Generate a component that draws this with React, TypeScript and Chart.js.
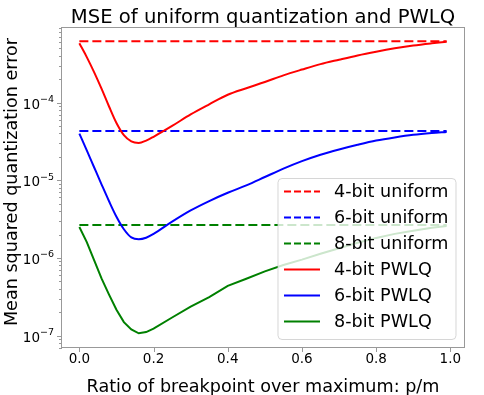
import React, { useEffect, useRef } from 'react';
import { Chart, registerables } from 'chart.js';

Chart.register(...registerables);

// ---- data ----
const ratios = [0, 0.02, 0.04, 0.06, 0.08, 0.1, 0.12, 0.14, 0.16, 0.18, 0.2, 0.25, 0.3, 0.35, 0.4, 0.45, 0.5, 0.55, 0.6, 0.65, 0.7, 0.75, 0.8, 0.85, 0.9, 0.95, 0.99];
const pwlq4 = [5.8e-4, 3.85e-4, 2.45e-4, 1.5e-4, 8.9e-5, 5.45e-5, 3.8e-5, 3.16e-5, 3.02e-5, 3.24e-5, 3.63e-5, 5.0e-5, 7.05e-5, 9.5e-5, 1.26e-4, 1.53e-4, 1.84e-4, 2.24e-4, 2.66e-4, 3.13e-4, 3.57e-4, 4.05e-4, 4.52e-4, 4.99e-4, 5.43e-4, 5.79e-4, 6.05e-4];
const pwlq6 = [3.98e-5, 2.43e-5, 1.46e-5, 8.8e-6, 5.37e-6, 3.39e-6, 2.34e-6, 1.84e-6, 1.74e-6, 1.82e-6, 2.04e-6, 2.93e-6, 4.09e-6, 5.4e-6, 6.9e-6, 8.6e-6, 1.1e-5, 1.41e-5, 1.76e-5, 2.13e-5, 2.49e-5, 2.86e-5, 3.24e-5, 3.56e-5, 3.85e-5, 4.06e-5, 4.19e-5];
const pwlq8 = [2.5e-6, 1.6e-6, 9.3e-7, 5.4e-7, 3.37e-7, 2.15e-7, 1.49e-7, 1.2e-7, 1.07e-7, 1.11e-7, 1.23e-7, 1.71e-7, 2.36e-7, 3.12e-7, 4.37e-7, 5.4e-7, 6.7e-7, 8.1e-7, 9.5e-7, 1.13e-6, 1.33e-6, 1.57e-6, 1.81e-6, 2.04e-6, 2.24e-6, 2.44e-6, 2.58e-6];
const uniformX = [0, 0.99];
const uniform4 = [6.15e-4, 6.15e-4];
const uniform6 = [4.3e-5, 4.3e-5];
const uniform8 = [2.65e-6, 2.65e-6];
const seriesLabels = ['4-bit uniform', '6-bit uniform', '8-bit uniform', '4-bit PWLQ', '6-bit PWLQ', '8-bit PWLQ'];
const xTickValues = [0, 0.2, 0.4, 0.6, 0.8, 1.0];
const yDecadeExponents = [-7, -6, -5, -4];
const titleText = 'MSE of uniform quantization and PWLQ';
const xLabelText = 'Ratio of breakpoint over maximum: p/m';
const yLabelText = 'Mean squared quantization error';

const FONT = "'DejaVu Sans', sans-serif";
const DASH = [9, 4];
const COLORS = ['#ff0000', '#0000ff', '#008000'];
const SPINE = '#999999';

const pts = (xs: number[], ys: number[]) => xs.map((x, i) => ({ x, y: ys[i] }));

function buildLogTicks(min: number, max: number) {
  const out: { value: number; major: boolean }[] = [];
  for (let e = -9; e <= -2; e++) {
    for (let m = 1; m <= 9; m++) {
      const v = Number((m * Math.pow(10, e)).toPrecision(3));
      if (v >= min && v <= max) out.push({ value: v, major: m === 1 });
    }
  }
  return out;
}

export default function App() {
  const ref = useRef<HTMLCanvasElement>(null);

  useEffect(() => {
    const canvas = ref.current;
    if (!canvas) return;

    const datasets: any[] = [
      { label: seriesLabels[0], data: pts(uniformX, uniform4), borderColor: COLORS[0], borderDash: DASH, order: 1 },
      { label: seriesLabels[1], data: pts(uniformX, uniform6), borderColor: COLORS[1], borderDash: DASH, order: 1 },
      { label: seriesLabels[2], data: pts(uniformX, uniform8), borderColor: COLORS[2], borderDash: DASH, order: 1 },
      { label: seriesLabels[3], data: pts(ratios, pwlq4), borderColor: COLORS[0], cubicInterpolationMode: 'monotone', order: 0 },
      { label: seriesLabels[4], data: pts(ratios, pwlq6), borderColor: COLORS[1], cubicInterpolationMode: 'monotone', order: 0 },
      { label: seriesLabels[5], data: pts(ratios, pwlq8), borderColor: COLORS[2], order: 0 },
    ];

    const decor = {
      id: 'decor',
      afterDraw(chart: any) {
        const ctx = chart.ctx as CanvasRenderingContext2D;
        const { left, right, top, bottom } = chart.chartArea;
        const xs = chart.scales.x;
        const ys = chart.scales.y;
        ctx.save();

        // frame
        ctx.strokeStyle = SPINE;
        ctx.lineWidth = 1;
        ctx.strokeRect(Math.round(left) + 0.5, Math.round(top) + 0.5, Math.round(right - left) - 1, Math.round(bottom - top) - 1);

        // x tick marks
        ctx.beginPath();
        for (const v of xTickValues) {
          const px = Math.round(xs.getPixelForValue(v)) + 0.5;
          ctx.moveTo(px, bottom);
          ctx.lineTo(px, bottom + 4);
        }
        // y tick marks
        for (const t of ys.ticks) {
          const py = Math.round(ys.getPixelForValue(t.value)) + 0.5;
          ctx.moveTo(left + 1, py);
          ctx.lineTo(left - (t.major ? 4 : 2), py);
        }
        ctx.stroke();

        // y tick labels (10^n)
        ctx.fillStyle = '#000';
        ctx.textBaseline = 'alphabetic';
        for (const e of yDecadeExponents) {
          const py = ys.getPixelForValue(Math.pow(10, e));
          const sup = '\u2212' + Math.abs(e);
          ctx.font = `9.5px ${FONT}`;
          const supW = ctx.measureText(sup).width;
          const rightEdge = 54;
          ctx.textAlign = 'left';
          ctx.fillText(sup, rightEdge - supW, py - 0.5);
          ctx.font = `13.5px ${FONT}`;
          ctx.textAlign = 'right';
          ctx.fillText('10', rightEdge - supW, py + 6);
        }

        // title
        ctx.textAlign = 'center';
        ctx.font = `19.6px ${FONT}`;
        ctx.fillText(titleText, (left + right) / 2, 23);

        // x label
        ctx.font = `17.6px ${FONT}`;
        ctx.fillText(xLabelText, (left + right) / 2, 391.5);

        // y label
        ctx.save();
        ctx.translate(17, 182);
        ctx.rotate(-Math.PI / 2);
        ctx.fillText(yLabelText, 0, 0);
        ctx.restore();

        // legend
        const bx = 278, by = 178.5, bw = 178, bh = 161, r = 4;
        ctx.beginPath();
        ctx.moveTo(bx + r, by);
        ctx.lineTo(bx + bw - r, by);
        ctx.quadraticCurveTo(bx + bw, by, bx + bw, by + r);
        ctx.lineTo(bx + bw, by + bh - r);
        ctx.quadraticCurveTo(bx + bw, by + bh, bx + bw - r, by + bh);
        ctx.lineTo(bx + r, by + bh);
        ctx.quadraticCurveTo(bx, by + bh, bx, by + bh - r);
        ctx.lineTo(bx, by + r);
        ctx.quadraticCurveTo(bx, by, bx + r, by);
        ctx.closePath();
        ctx.fillStyle = 'rgba(255,255,255,0.8)';
        ctx.fill();
        ctx.strokeStyle = 'rgba(204,204,204,0.8)';
        ctx.lineWidth = 1;
        ctx.stroke();

        ctx.font = `17.6px ${FONT}`;
        ctx.textAlign = 'left';
        ctx.textBaseline = 'middle';
        chart.data.datasets.forEach((ds: any, i: number) => {
          const cy = 191.5 + i * 26;
          ctx.beginPath();
          ctx.strokeStyle = ds.borderColor;
          ctx.lineWidth = 2;
          ctx.setLineDash(ds.borderDash ? [7, 3] : []);
          ctx.moveTo(284, cy);
          ctx.lineTo(320, cy);
          ctx.stroke();
          ctx.setLineDash([]);
          ctx.fillStyle = '#000';
          ctx.fillText(ds.label, 334, cy + 1);
        });

        ctx.restore();
      },
    };

    const chart = new Chart(canvas, {
      type: 'line',
      data: { datasets },
      options: {
        responsive: false,
        animation: false,
        devicePixelRatio: 1,
        layout: { padding: { top: 27, right: 19, left: 0, bottom: 0 } },
        plugins: { legend: { display: false }, tooltip: { enabled: false } },
        elements: { point: { radius: 0 }, line: { borderWidth: 2, fill: false, tension: 0 } },
        scales: {
          x: {
            type: 'linear',
            min: -0.0495,
            max: 1.0395,
            grid: { display: false, drawTicks: false },
            border: { display: false },
            afterBuildTicks: (s: any) => {
              s.ticks = xTickValues.map((v) => ({ value: v }));
            },
            afterFit: (s: any) => {
              s.height = 47;
            },
            ticks: {
              font: { family: FONT, size: 13.5 },
              color: '#000',
              padding: 3,
              maxRotation: 0,
              autoSkip: false,
              callback: (v: any) => Number(v).toFixed(1),
            },
          },
          y: {
            type: 'logarithmic',
            min: 6.92e-8,
            max: 9.4e-4,
            grid: { display: false, drawTicks: false },
            border: { display: false },
            ticks: { display: false },
            afterBuildTicks: (s: any) => {
              s.ticks = buildLogTicks(6.92e-8, 9.4e-4);
            },
            afterFit: (s: any) => {
              s.width = 61;
            },
          },
        },
      } as any,
      plugins: [decor],
    });

    return () => chart.destroy();
  }, []);

  return (
    <div style={{ position: 'fixed', left: 0, top: 0, width: 484, height: 395, background: '#fff' }}>
      <canvas ref={ref} width={484} height={395} style={{ display: 'block', width: 484, height: 395 }} />
    </div>
  );
}
